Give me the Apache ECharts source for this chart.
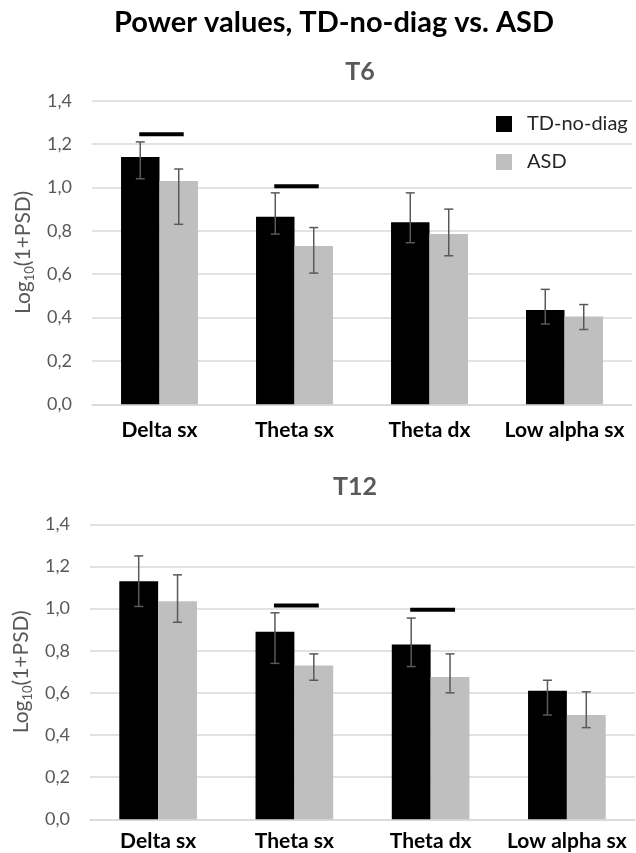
<!DOCTYPE html>
<html>
<head>
<meta charset="utf-8">
<script src="https://cdn.jsdelivr.net/npm/echarts@6/dist/echarts.min.js"></script>
<style>
html,body{margin:0;padding:0;background:#fff;}
#chart{width:636px;height:853px;}
</style>
</head>
<body>
<div id="chart"></div>
<script>
var categories = ['Delta sx', 'Theta sx', 'Theta dx', 'Low alpha sx'];
var yTickLabels = ['0,0', '0,2', '0,4', '0,6', '0,8', '1,0', '1,2', '1,4'];

// T6
var t6TD = [1.14, 0.865, 0.84, 0.435];
var t6TDLow = [1.04, 0.785, 0.745, 0.37];
var t6TDHigh = [1.21, 0.975, 0.975, 0.53];
var t6ASD = [1.03, 0.73, 0.785, 0.405];
var t6ASDLow = [0.83, 0.605, 0.685, 0.345];
var t6ASDHigh = [1.085, 0.815, 0.9, 0.46];
var t6Sig = [1.245, 1.005, null, null];

// T12
var t12TD = [1.13, 0.89, 0.83, 0.61];
var t12TDLow = [1.01, 0.74, 0.725, 0.495];
var t12TDHigh = [1.25, 0.98, 0.955, 0.66];
var t12ASD = [1.035, 0.73, 0.675, 0.495];
var t12ASDLow = [0.935, 0.66, 0.6, 0.435];
var t12ASDHigh = [1.16, 0.785, 0.785, 0.605];
var t12Sig = [null, 1.015, 0.995, null];

var BAR_FRAC = 0.285;
var FONT = 'Lato, "Open Sans", sans-serif';

function errData(low, high) {
  return low.map(function (l, i) { return [i, l, high[i]]; });
}
function sigData(arr) {
  var out = [];
  arr.forEach(function (v, i) { if (v != null) out.push([i, v]); });
  return out;
}
function errRender(sign) {
  return function (params, api) {
    var band = api.size([1, 0])[0];
    var bw = band * BAR_FRAC;
    var lo = api.coord([api.value(0), api.value(1)]);
    var hi = api.coord([api.value(0), api.value(2)]);
    var x = lo[0] + sign * bw / 2;
    var cap = 4.5;
    var st = { stroke: '#595959', lineWidth: 1.5 };
    return {
      type: 'group',
      children: [
        { type: 'line', shape: { x1: x, y1: lo[1], x2: x, y2: hi[1] }, style: st },
        { type: 'line', shape: { x1: x - cap, y1: lo[1], x2: x + cap, y2: lo[1] }, style: st },
        { type: 'line', shape: { x1: x - cap, y1: hi[1], x2: x + cap, y2: hi[1] }, style: st }
      ]
    };
  };
}
function sigRender(params, api) {
  var band = api.size([1, 0])[0];
  var bw = band * BAR_FRAC;
  var p = api.coord([api.value(0), api.value(1)]);
  return {
    type: 'line',
    shape: { x1: p[0] - bw / 2 - 1, y1: p[1], x2: p[0] + bw / 2 + 5, y2: p[1] },
    style: { stroke: '#000', lineWidth: 4 }
  };
}

function yAxisDef(gi) {
  return {
    type: 'value', gridIndex: gi, min: 0, max: 1.4, interval: 0.2,
    axisLine: { show: false }, axisTick: { show: false },
    splitLine: { lineStyle: { color: '#d9d9d9', width: 1.5 } },
    axisLabel: {
      color: '#595959', fontSize: 18, fontFamily: FONT, margin: 20,
      formatter: function (v) { return yTickLabels[Math.round(v / 0.2)]; }
    },
    name: 'Log{sub|10}(1+PSD)',
    nameLocation: 'middle', nameGap: 56,
    nameTextStyle: {
      color: '#595959', fontSize: 21, fontFamily: FONT,
      rich: {
        sub: { fontSize: 13, fontFamily: FONT, color: '#595959', verticalAlign: 'bottom', lineHeight: 13 }
      },
      lineHeight: 26
    }
  };
}
function xAxisDef(gi, margin) {
  return {
    type: 'category', gridIndex: gi, data: categories,
    axisLine: { lineStyle: { color: '#d9d9d9', width: 1.5 } },
    axisTick: { show: false },
    axisLabel: { interval: 0, color: '#000', fontSize: 21, fontWeight: 'bold', fontFamily: FONT, margin: margin }
  };
}
function barSeries(name, data, gi, color) {
  return {
    type: 'bar', name: name, data: data, xAxisIndex: gi, yAxisIndex: gi,
    barWidth: (BAR_FRAC * 100) + '%', barGap: '0%',
    itemStyle: { color: color }, z: 2
  };
}
function errSeries(low, high, gi, sign) {
  return {
    type: 'custom', xAxisIndex: gi, yAxisIndex: gi, data: errData(low, high),
    encode: { x: 0, y: [1, 2] }, renderItem: errRender(sign), z: 5, silent: true
  };
}
function sigSeries(arr, gi) {
  return {
    type: 'custom', xAxisIndex: gi, yAxisIndex: gi, data: sigData(arr),
    encode: { x: 0, y: 1 }, renderItem: sigRender, z: 6, silent: true
  };
}

var chart = echarts.init(document.getElementById('chart'), null, { renderer: 'canvas' });
chart.setOption({
  animation: false,
  backgroundColor: '#fff',
  graphic: [
    { type: 'text', x: 334, y: 23, style: { text: 'Power values, TD-no-diag vs. ASD', font: 'bold 29px ' + FONT, fill: '#000', textAlign: 'center', textVerticalAlign: 'middle' } },
    { type: 'text', x: 360, y: 72, style: { text: 'T6', font: 'bold 25px ' + FONT, fill: '#595959', textAlign: 'center', textVerticalAlign: 'middle' } },
    { type: 'text', x: 355, y: 487, style: { text: 'T12', font: 'bold 25px ' + FONT, fill: '#595959', textAlign: 'center', textVerticalAlign: 'middle' } }
  ],
  legend: {
    data: ['TD-no-diag', 'ASD'], orient: 'vertical', left: 491, top: 109,
    icon: 'rect', itemWidth: 16, itemHeight: 16, itemGap: 18,
    textStyle: { fontSize: 20, color: '#262626', fontFamily: FONT, padding: [0, 0, 0, 10] }
  },
  grid: [
    { left: 92, top: 100.7, width: 540, height: 303.6 },
    { left: 90, top: 524.3, width: 545, height: 295 }
  ],
  xAxis: [xAxisDef(0, 15), xAxisDef(1, 11)],
  yAxis: [yAxisDef(0), yAxisDef(1)],
  series: [
    barSeries('TD-no-diag', t6TD, 0, '#000000'),
    barSeries('ASD', t6ASD, 0, '#bfbfbf'),
    errSeries(t6TDLow, t6TDHigh, 0, -1),
    errSeries(t6ASDLow, t6ASDHigh, 0, 1),
    sigSeries(t6Sig, 0),
    barSeries('TD-no-diag', t12TD, 1, '#000000'),
    barSeries('ASD', t12ASD, 1, '#bfbfbf'),
    errSeries(t12TDLow, t12TDHigh, 1, -1),
    errSeries(t12ASDLow, t12ASDHigh, 1, 1),
    sigSeries(t12Sig, 1)
  ]
});
</script>
</body>
</html>
